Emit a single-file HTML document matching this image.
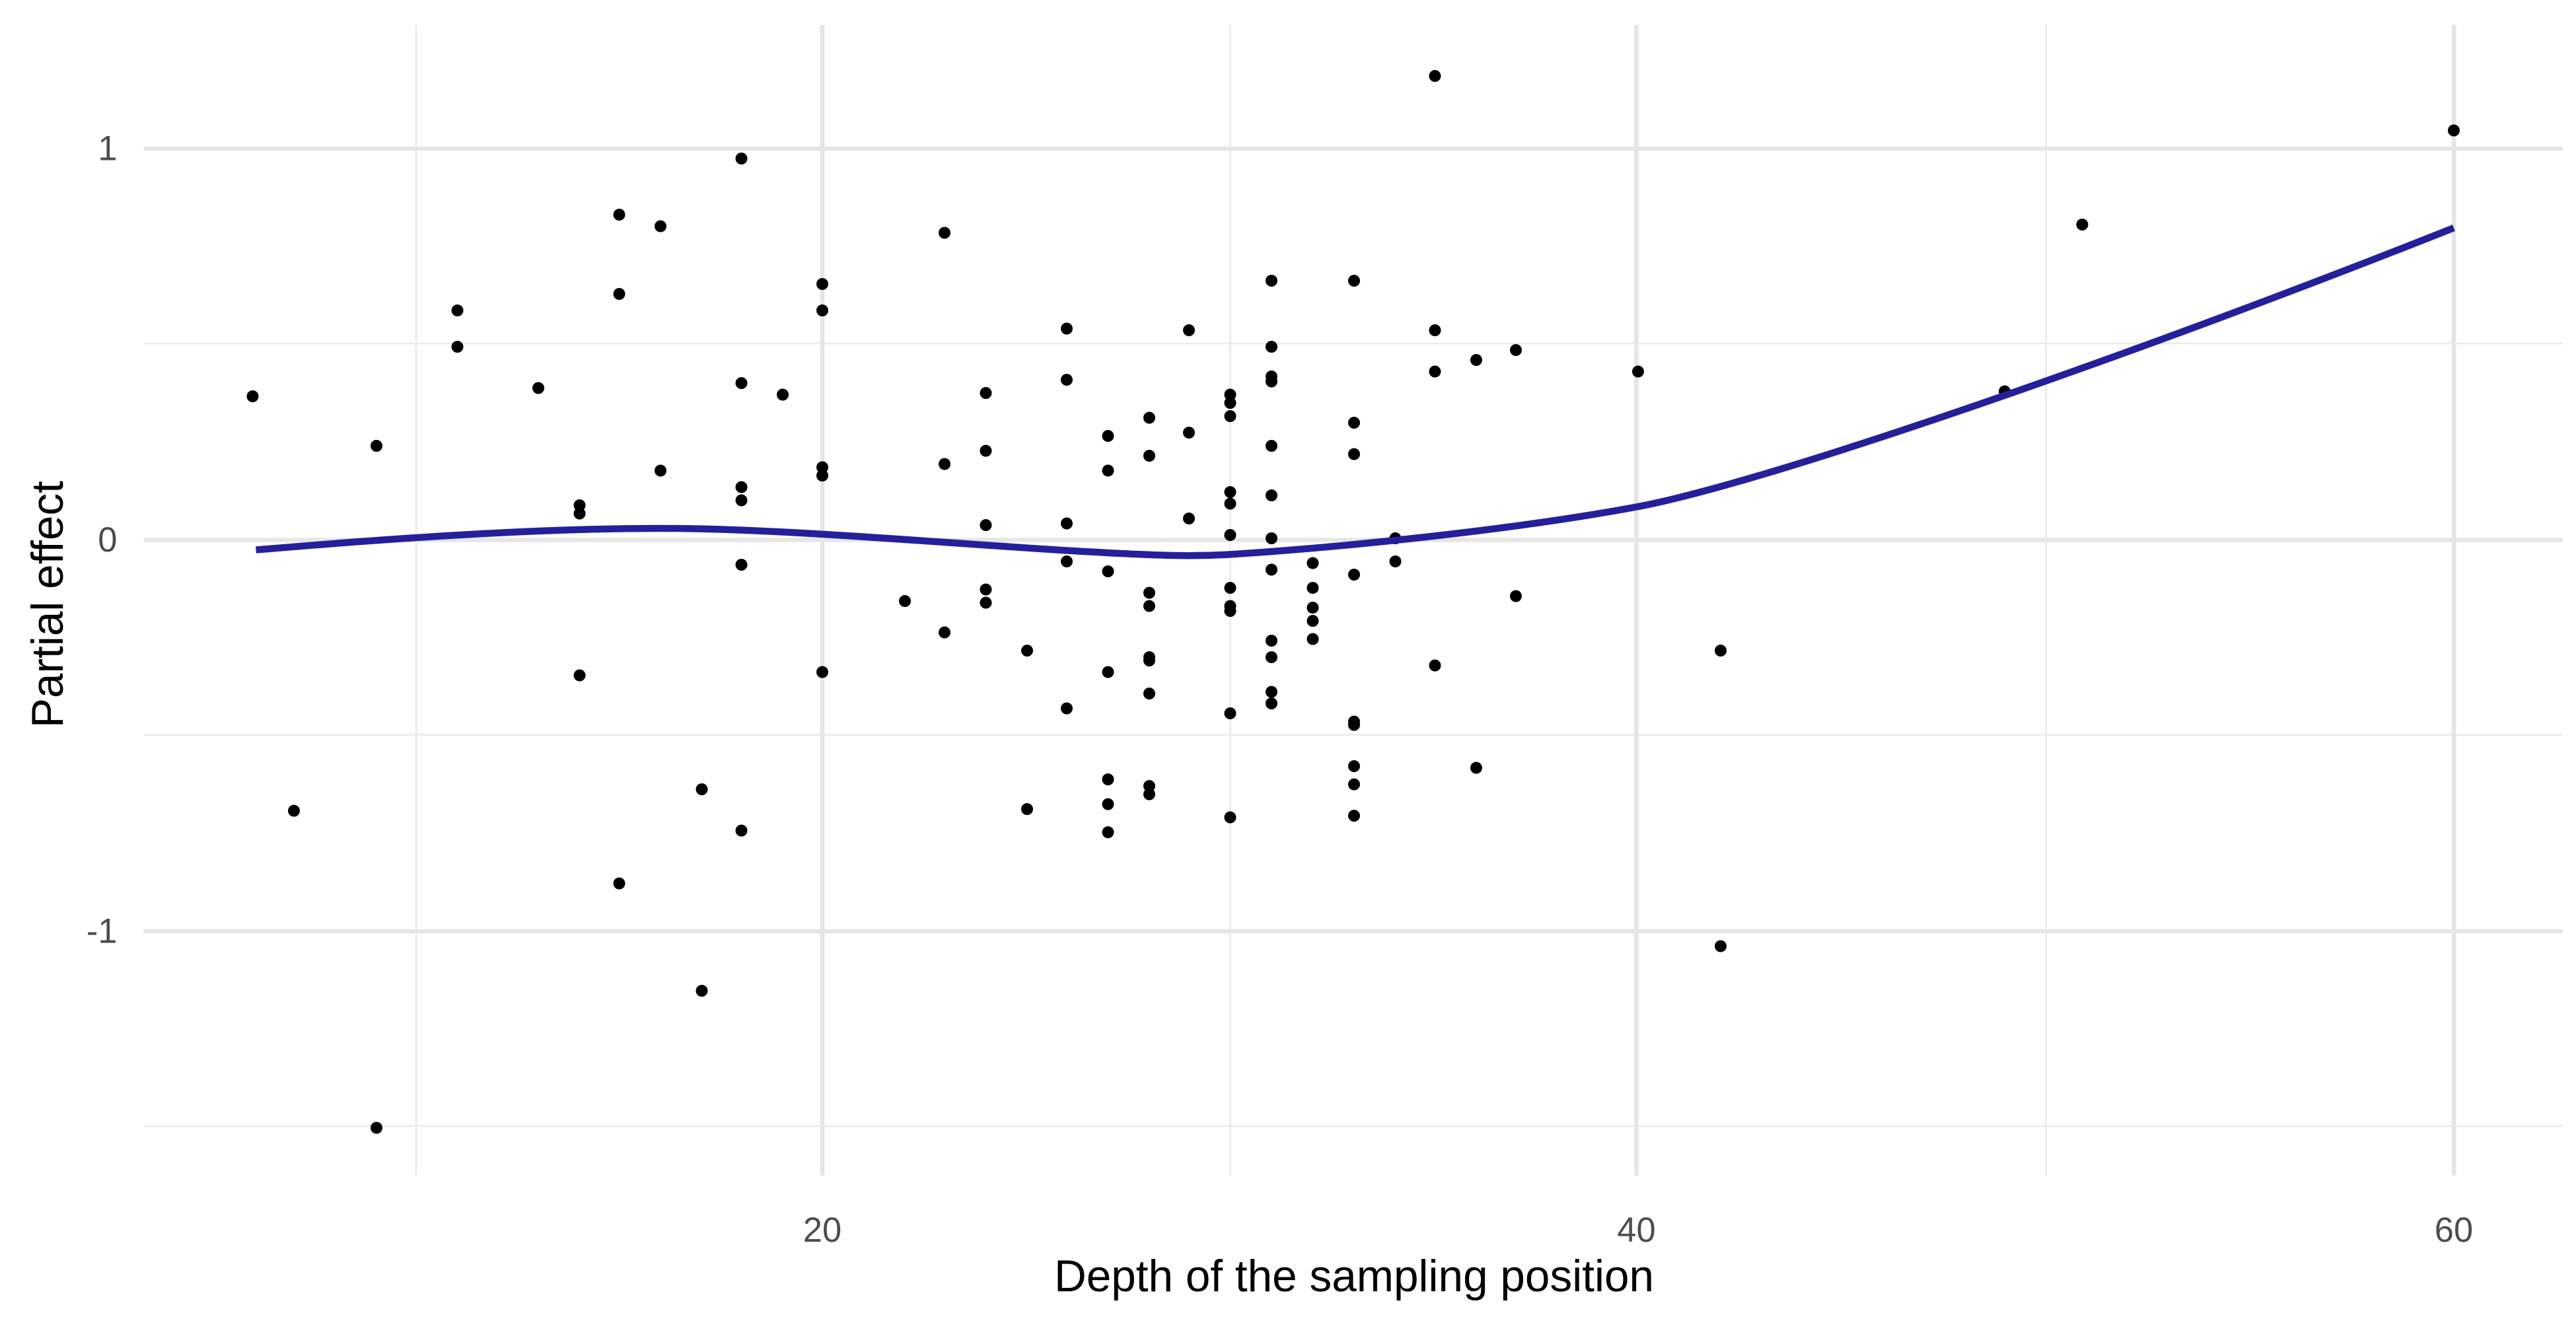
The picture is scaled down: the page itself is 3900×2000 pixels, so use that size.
<!DOCTYPE html>
<html><head><meta charset="utf-8"><style>html,body{margin:0;padding:0;background:#fff}svg{display:block}</style></head>
<body>
<svg width="3900" height="2000" viewBox="0 0 1560 800" xmlns="http://www.w3.org/2000/svg" font-family="Liberation Sans, Arial, sans-serif">
<rect width="1560" height="800" fill="#fff"/>
<g stroke="#ebebeb" stroke-width="1.1">
<line x1="87" x2="1552" y1="208" y2="208"/><line x1="87" x2="1552" y1="445" y2="445"/><line x1="87" x2="1552" y1="682" y2="682"/>
<line x1="252" x2="252" y1="15" y2="712"/><line x1="745" x2="745" y1="15" y2="712"/><line x1="1239" x2="1239" y1="15" y2="712"/>
</g>
<g stroke="#e6e6e6" stroke-width="2.6">
<line x1="87" x2="1552" y1="90" y2="90"/><line x1="87" x2="1552" y1="327" y2="327"/><line x1="87" x2="1552" y1="564" y2="564"/>
<line x1="498" x2="498" y1="15" y2="712"/><line x1="991" x2="991" y1="15" y2="712"/><line x1="1486" x2="1486" y1="15" y2="712"/>
</g>
<g fill="#000">
<circle cx="153" cy="240" r="3.6"/><circle cx="178" cy="491" r="3.6"/><circle cx="228" cy="270" r="3.6"/><circle cx="228" cy="683" r="3.6"/><circle cx="277" cy="188" r="3.6"/><circle cx="277" cy="210" r="3.6"/><circle cx="326" cy="235" r="3.6"/><circle cx="351" cy="306" r="3.6"/><circle cx="351" cy="311" r="3.6"/><circle cx="351" cy="409" r="3.6"/><circle cx="375" cy="130" r="3.6"/><circle cx="375" cy="178" r="3.6"/><circle cx="375" cy="535" r="3.6"/><circle cx="400" cy="137" r="3.6"/><circle cx="400" cy="285" r="3.6"/><circle cx="425" cy="478" r="3.6"/><circle cx="425" cy="600" r="3.6"/><circle cx="449" cy="96" r="3.6"/><circle cx="449" cy="232" r="3.6"/><circle cx="449" cy="295" r="3.6"/><circle cx="449" cy="303" r="3.6"/><circle cx="449" cy="342" r="3.6"/><circle cx="449" cy="503" r="3.6"/><circle cx="474" cy="239" r="3.6"/><circle cx="498" cy="172" r="3.6"/><circle cx="498" cy="188" r="3.6"/><circle cx="498" cy="283" r="3.6"/><circle cx="498" cy="288" r="3.6"/><circle cx="498" cy="407" r="3.6"/><circle cx="548" cy="364" r="3.6"/><circle cx="572" cy="141" r="3.6"/><circle cx="572" cy="281" r="3.6"/><circle cx="572" cy="383" r="3.6"/><circle cx="597" cy="238" r="3.6"/><circle cx="597" cy="273" r="3.6"/><circle cx="597" cy="318" r="3.6"/><circle cx="597" cy="357" r="3.6"/><circle cx="597" cy="365" r="3.6"/><circle cx="622" cy="394" r="3.6"/><circle cx="622" cy="490" r="3.6"/><circle cx="646" cy="199" r="3.6"/><circle cx="646" cy="230" r="3.6"/><circle cx="646" cy="317" r="3.6"/><circle cx="646" cy="340" r="3.6"/><circle cx="646" cy="429" r="3.6"/><circle cx="671" cy="264" r="3.6"/><circle cx="671" cy="285" r="3.6"/><circle cx="671" cy="346" r="3.6"/><circle cx="671" cy="407" r="3.6"/><circle cx="671" cy="472" r="3.6"/><circle cx="671" cy="487" r="3.6"/><circle cx="671" cy="504" r="3.6"/><circle cx="696" cy="253" r="3.6"/><circle cx="696" cy="276" r="3.6"/><circle cx="696" cy="359" r="3.6"/><circle cx="696" cy="367" r="3.6"/><circle cx="696" cy="398" r="3.6"/><circle cx="696" cy="400" r="3.6"/><circle cx="696" cy="420" r="3.6"/><circle cx="696" cy="476" r="3.6"/><circle cx="696" cy="481" r="3.6"/><circle cx="720" cy="200" r="3.6"/><circle cx="720" cy="262" r="3.6"/><circle cx="720" cy="314" r="3.6"/><circle cx="745" cy="239" r="3.6"/><circle cx="745" cy="244" r="3.6"/><circle cx="745" cy="252" r="3.6"/><circle cx="745" cy="298" r="3.6"/><circle cx="745" cy="305" r="3.6"/><circle cx="745" cy="324" r="3.6"/><circle cx="745" cy="356" r="3.6"/><circle cx="745" cy="367" r="3.6"/><circle cx="745" cy="370" r="3.6"/><circle cx="745" cy="432" r="3.6"/><circle cx="745" cy="495" r="3.6"/><circle cx="770" cy="170" r="3.6"/><circle cx="770" cy="210" r="3.6"/><circle cx="770" cy="228" r="3.6"/><circle cx="770" cy="231" r="3.6"/><circle cx="770" cy="270" r="3.6"/><circle cx="770" cy="300" r="3.6"/><circle cx="770" cy="326" r="3.6"/><circle cx="770" cy="345" r="3.6"/><circle cx="770" cy="388" r="3.6"/><circle cx="770" cy="398" r="3.6"/><circle cx="770" cy="419" r="3.6"/><circle cx="770" cy="426" r="3.6"/><circle cx="795" cy="341" r="3.6"/><circle cx="795" cy="356" r="3.6"/><circle cx="795" cy="368" r="3.6"/><circle cx="795" cy="376" r="3.6"/><circle cx="795" cy="387" r="3.6"/><circle cx="820" cy="170" r="3.6"/><circle cx="820" cy="256" r="3.6"/><circle cx="820" cy="275" r="3.6"/><circle cx="820" cy="348" r="3.6"/><circle cx="820" cy="437" r="3.6"/><circle cx="820" cy="439" r="3.6"/><circle cx="820" cy="464" r="3.6"/><circle cx="820" cy="475" r="3.6"/><circle cx="820" cy="494" r="3.6"/><circle cx="845" cy="326" r="3.6"/><circle cx="845" cy="340" r="3.6"/><circle cx="869" cy="46" r="3.6"/><circle cx="869" cy="200" r="3.6"/><circle cx="869" cy="225" r="3.6"/><circle cx="869" cy="403" r="3.6"/><circle cx="894" cy="218" r="3.6"/><circle cx="894" cy="465" r="3.6"/><circle cx="918" cy="212" r="3.6"/><circle cx="918" cy="361" r="3.6"/><circle cx="992" cy="225" r="3.6"/><circle cx="1042" cy="394" r="3.6"/><circle cx="1042" cy="573" r="3.6"/><circle cx="1214" cy="237" r="3.6"/><circle cx="1261" cy="136" r="3.6"/><circle cx="1486" cy="79" r="3.6"/>
</g>
<path d="M155,333 C250,325 330,320 400,320 S560,328 640,333 S730,337 770,334 S910,322 991,307 S1300,212 1486,138" fill="none" stroke="#24209b" stroke-width="4.2"/>
<g fill="#4d4d4d" font-size="21">
<text x="71" y="97" text-anchor="end">1</text>
<text x="71" y="334" text-anchor="end">0</text>
<text x="71" y="571" text-anchor="end">-1</text>
<text x="498" y="752" text-anchor="middle">20</text>
<text x="991" y="752" text-anchor="middle">40</text>
<text x="1486" y="752" text-anchor="middle">60</text>
</g>
<text x="820" y="782" text-anchor="middle" font-size="27" fill="#000">Depth of the sampling position</text>
<text transform="translate(38,366) rotate(-90)" text-anchor="middle" font-size="27" fill="#000">Partial effect</text>
</svg>
</body></html>
